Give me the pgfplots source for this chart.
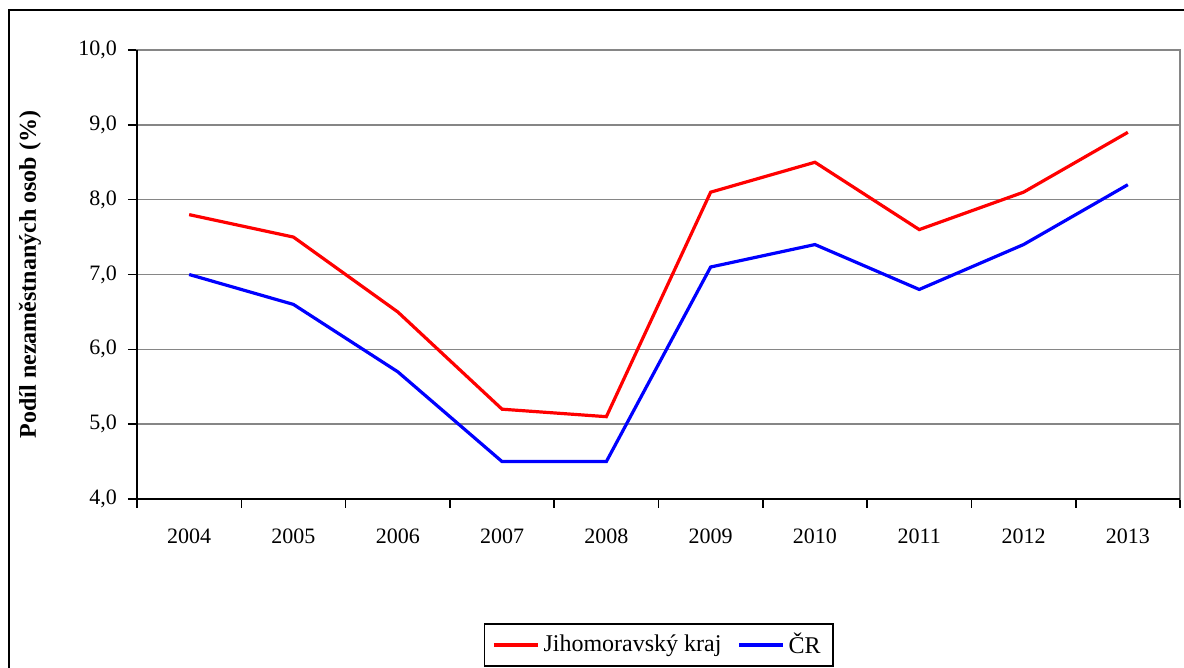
\documentclass[border=0pt]{standalone}
\usepackage{pgfplots}
\pgfplotsset{compat=1.18}
\usepackage{fontspec}
\setmainfont{Liberation Serif}
\definecolor{gridgray}{RGB}{134,134,134}
\begin{document}
\begin{tikzpicture}[x=0.5pt,y=0.5pt]
\useasboundingbox (0,0) rectangle (1184,668);
\draw[line width=1.1pt] (9,658) rectangle (1260,-60);
\begin{axis}[
  at={(68.5pt,84.5pt)}, anchor=south west,
  scale only axis, width=521.5pt, height=224.5pt,
  xmin=-0.5, xmax=9.5, ymin=4, ymax=10,
  xtick={0,...,9},
  xticklabels={2004,2005,2006,2007,2008,2009,2010,2011,2012,2013},
  minor xtick={-0.5,0.5,...,9.5},
  ytick={4,5,...,10},
  tick pos=left,
  tick align=outside,
  major tick length=4.5pt, minor tick length=4.5pt,
  major x tick style={draw=none},
  minor x tick style={black, line width=0.8pt},
  major y tick style={black, line width=0.8pt},
  ymajorgrids, grid style={gridgray, line width=0.7pt},
  axis line style={gridgray, line width=0.8pt},
  tick label style={font=\fontsize{11}{13}\selectfont},
  /pgf/number format/assume math mode=true,
  yticklabel style={xshift=-2pt, /pgf/number format/.cd, fixed, fixed zerofill, precision=1, use comma},
  xticklabel style={yshift=-7pt},
  ylabel={\textbf{Podíl nezaměstnaných osob (\%)}},
  ylabel style={font=\fontsize{12}{14}\selectfont, at={(rel axis cs:0,0.5)}, anchor=center, rotate=0, yshift=53.5pt},
  legend columns=2,
  legend style={at={(0.5,-0.325)}, anchor=center, draw=black, line width=0.8pt,
    font=\fontsize{12}{14}\selectfont, inner xsep=4pt, inner ysep=2.5pt,
    /tikz/every even column/.append style={column sep=6pt}},
  legend image code/.code={\draw[#1, line width=1.6pt] (0pt,0pt) -- (22pt,0pt);},
  after end axis/.code={\draw[black, line width=1pt] (rel axis cs:0,1) -- (rel axis cs:0,0) -- (rel axis cs:1,0);},
]
\addplot[red, line width=1.6pt] coordinates {(0,7.8) (1,7.5) (2,6.5) (3,5.2) (4,5.1) (5,8.1) (6,8.5) (7,7.6) (8,8.1) (9,8.9)};
\addlegendentry{Jihomoravský kraj}
\addplot[blue, line width=1.6pt] coordinates {(0,7.0) (1,6.6) (2,5.7) (3,4.5) (4,4.5) (5,7.1) (6,7.4) (7,6.8) (8,7.4) (9,8.2)};
\addlegendentry{ČR}
\end{axis}
\end{tikzpicture}
\end{document}
